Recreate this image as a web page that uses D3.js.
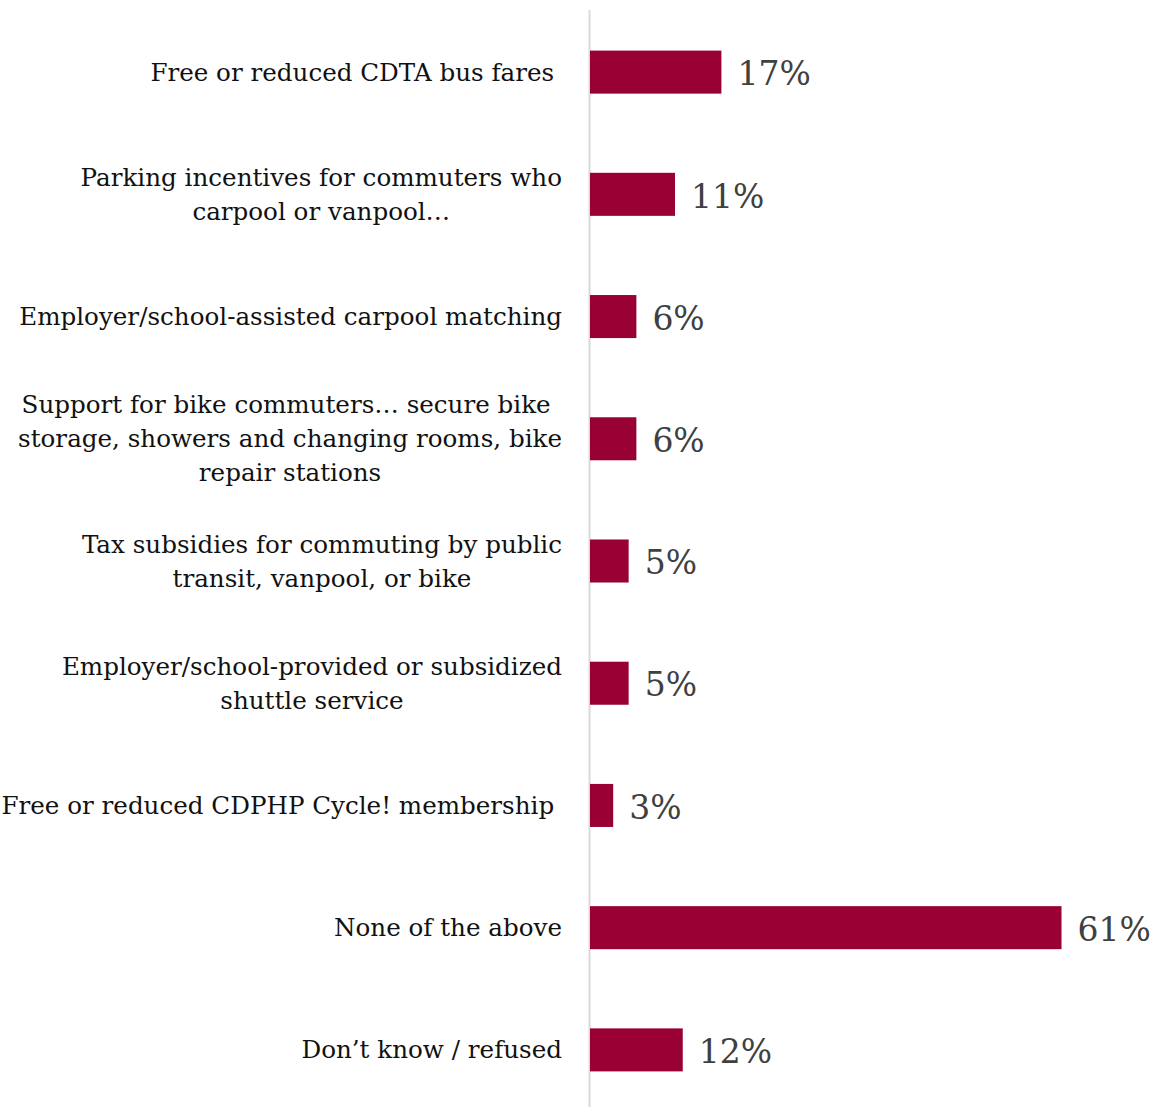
<!DOCTYPE html>
<html>
<head>
<meta charset="utf-8">
<script src="https://cdn.jsdelivr.net/npm/d3@7"></script>
<style>
  html, body { margin: 0; padding: 0; background: #fff; }
  svg { display: block; }
  .cat tspan { white-space: pre; }
</style>
</head>
<body>
<svg id="chart" width="1157" height="1107"></svg>
<script>
// Survey responses: commuting incentives that would be used
const categories = [
  ["Free or reduced CDTA bus fares "],
  ["Parking incentives for commuters who", "carpool or vanpool…"],
  ["Employer/school-assisted carpool matching"],
  ["Support for bike commuters… secure bike ", "storage, showers and changing rooms, bike", "repair stations"],
  ["Tax subsidies for commuting by public", "transit, vanpool, or bike"],
  ["Employer/school-provided or subsidized", "shuttle service"],
  ["Free or reduced CDPHP Cycle! membership "],
  ["None of the above"],
  ["Don’t know / refused"]
];
const values = [17, 11, 6, 6, 5, 5, 3, 61, 12];
const valueLabels = values.map(v => v + "%");

const svg = d3.select("#chart");
const fontFamily = "'DejaVu Serif', 'Liberation Serif', serif";

const keys = categories.map((c, i) => i);

const y = d3.scaleBand()
  .domain(keys)
  .range([11, 1111])
  .paddingInner(0.648)
  .paddingOuter(0.324);

const x = d3.scaleLinear()
  .domain([0, 61])
  .range([590, 1061.5]);

// vertical category axis line
svg.append("line")
  .attr("x1", 589.5).attr("x2", 589.5)
  .attr("y1", 10).attr("y2", 1107)
  .attr("stroke", "#d9d9d9")
  .attr("stroke-width", 2);

// bars
svg.append("g").selectAll("rect")
  .data(values)
  .join("rect")
  .attr("x", x(0))
  .attr("y", (d, i) => y(i))
  .attr("width", d => x(d) - x(0))
  .attr("height", y.bandwidth())
  .attr("fill", "#990033");

// value labels
svg.append("g").selectAll("text")
  .data(values)
  .join("text")
  .attr("x", d => x(d) + 16)
  .attr("y", (d, i) => y(i) + y.bandwidth() / 2)
  .attr("dy", "0.4em")
  .attr("font-family", fontFamily)
  .attr("font-size", 33)
  .attr("fill", "#404040")
  .text((d, i) => valueLabels[i]);

// category labels: lines centred within a block right-aligned to the axis
const labelRight = 562;
const lineHeight = 34;
const labelG = svg.append("g")
  .attr("class", "cat")
  .attr("font-family", fontFamily)
  .attr("font-size", 24.6)
  .attr("fill", "#111");

categories.forEach((lines, i) => {
  const cy = y(i) + y.bandwidth() / 2;
  const t = labelG.append("text").attr("text-anchor", "middle");
  const spans = lines.map((ln, j) =>
    t.append("tspan")
      .attr("y", cy + (j - (lines.length - 1) / 2) * lineHeight)
      .attr("dy", "0.35em")
      .text(ln)
  );
  const maxW = d3.max(spans, s => s.node().getComputedTextLength());
  spans.forEach(s => s.attr("x", labelRight - maxW / 2));
});
</script>
</body>
</html>
